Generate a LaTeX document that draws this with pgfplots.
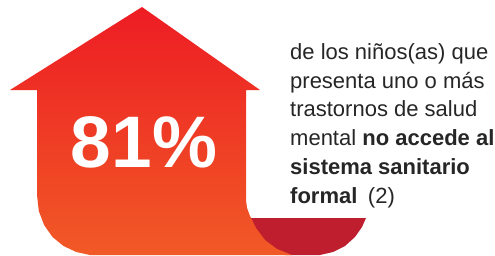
\documentclass[border=0pt]{standalone}
\usepackage{pgfplots}
\pgfplotsset{compat=1.18}
\usepackage{fontspec}
\setmainfont{Liberation Sans}
\definecolor{arrtop}{HTML}{ED1C24}
\definecolor{arrbot}{HTML}{F15A26}
\definecolor{curl}{HTML}{BE1E2D}
\definecolor{txt}{HTML}{262626}
\begin{document}
\begin{tikzpicture}
\begin{axis}[name=ax,
  scale only axis, width=495pt, height=255pt,
  xmin=0, xmax=495, ymin=0, ymax=255, y dir=reverse,
  hide axis, clip=false]
% dark red curl (shadow)
\addplot[draw=none, fill=curl] coordinates {
 (250,218) (366,218) (362,227) (355,237) (345,246) (333,252) (320,255) (285,255) (250,232)
} -- cycle;
% arrow
\addplot[draw=none, top color=arrtop, bottom color=arrbot] coordinates {
 (142,7) (260,90) (246,90) (246,200) (247,208) (250,216) (256,228) (265,240) (277,249) (292,255)
 (90,255) (76.3,252) (63.5,246) (52.5,237) (44.1,225) (38.8,211) (37,195) (37,90) (10,90)
} -- cycle;
\node[anchor=base, text=white, font=\bfseries\fontsize{73}{80}\selectfont] at (axis cs:144,167) {81\%};
\begin{scope}[every node/.style={anchor=base west, inner sep=0pt, text=txt, font=\fontsize{22}{28}\selectfont}]
\node at (axis cs:290,59.5) {de los niños(as) que};
\node at (axis cs:290,88.2) {presenta uno o más};
\node at (axis cs:290,116.9) {trastornos de salud};
\node at (axis cs:290,145.6) {mental \textbf{no accede al}};
\node at (axis cs:290,174.3) {\textbf{sistema sanitario}};
\node at (axis cs:290,203) {\textbf{formal}\hspace{0.2em} (2)};
\end{scope}
\end{axis}
\pgfresetboundingbox
\path (ax.south west) rectangle (ax.north east);
\end{tikzpicture}
\end{document}
